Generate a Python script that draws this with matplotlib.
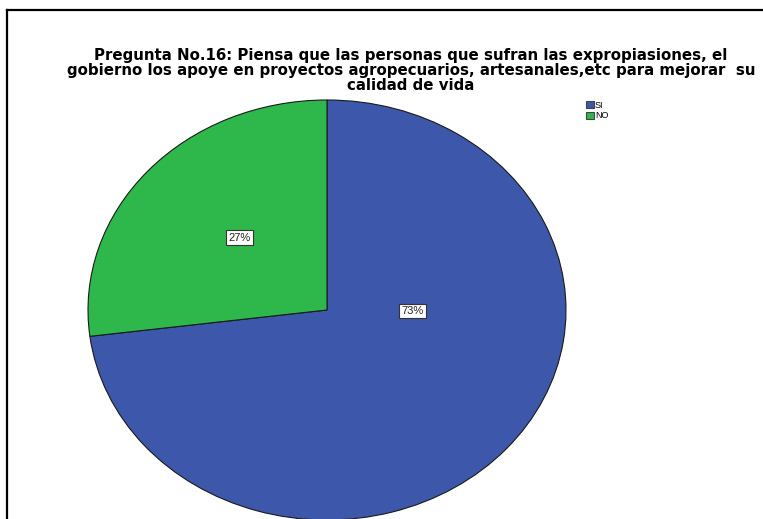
import matplotlib.pyplot as plt
from matplotlib.lines import Line2D

categorias = ['SI', 'NO']
porcentajes = [73, 27]
colores = ['#3D58AA', '#2EB84B']

titulo = ('Pregunta No.16: Piensa que las personas que sufran las expropiasiones, el\n'
          'gobierno los apoye en proyectos agropecuarios, artesanales,etc para mejorar  su\n'
          'calidad de vida')

plt.rcParams['font.family'] = ['Liberation Sans', 'DejaVu Sans']

fig = plt.figure(figsize=(7.63, 5.19), dpi=100)

# marco del grafico (solo borde superior e izquierdo visibles)
fig.add_artist(Line2D([7 / 763, 7 / 763], [0, 1 - 10 / 519], color='black', lw=1.6))
fig.add_artist(Line2D([7 / 763, 1], [1 - 10 / 519, 1 - 10 / 519], color='black', lw=1.6))

# pastel estirado en elipse
ax = fig.add_axes([88 / 763, -1 / 519, 478 / 763, 420 / 519])
wedges, textos, autotextos = ax.pie(
    porcentajes, colors=colores, startangle=90, counterclock=False,
    autopct='%1.0f%%', pctdistance=0.5,
    wedgeprops=dict(edgecolor='#1a1a1a', linewidth=0.8))
ax.set_aspect('auto')
ax.set_xlim(-1.0, 1.0)
ax.set_ylim(-1.0, 1.0)

# la etiqueta del sector grande va cerca del centro
autotextos[0].set_position((0.357, -0.005))
autotextos[1].set_position((-0.365, 0.345))
for t in autotextos:
    t.set_fontsize(8)
    t.set_color('#222222')
    t.set_bbox(dict(facecolor='white', edgecolor='#333333', boxstyle='square,pad=0.2', linewidth=0.8))

fig.text(411 / 763, 1 - 48 / 519, titulo, ha='center', va='top', fontsize=10.8,
         fontweight='bold', linespacing=1.0, family='DejaVu Sans')

leg = fig.legend(wedges, categorias, loc='upper left', bbox_to_anchor=(586 / 763, 1 - 101 / 519),
                 frameon=False, fontsize=6.5, handlelength=0.85, handleheight=0.85,
                 handletextpad=0.15, labelspacing=0.15, borderpad=0, borderaxespad=0)
for h in leg.legend_handles:
    h.set_edgecolor('#444444')

fig.savefig('out.png', dpi=100)
